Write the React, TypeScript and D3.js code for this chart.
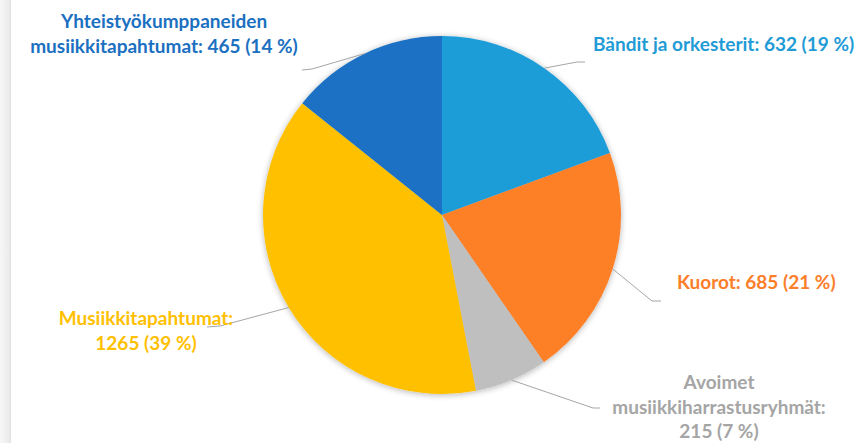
import React from "react";
import * as d3 from "d3";

const categories = [
  "Bändit ja orkesterit",
  "Kuorot",
  "Avoimet musiikkiharrastusryhmät",
  "Musiikkitapahtumat",
  "Yhteistyökumppaneiden musiikkitapahtumat",
];
const values = [632, 685, 215, 1265, 465];
const percentLabels = ["19 %", "21 %", "7 %", "39 %", "14 %"];
const sliceColors = ["#1f9dd8", "#fd7f28", "#bfbfbf", "#ffc000", "#1a71c4"];
const textColors = ["#1f9bd6", "#fb7e2a", "#a5a5a5", "#ffc000", "#1b70c1"];
// label line breaks (text split)
const labelLines = [
  ["Bändit ja orkesterit: 632 (19 %)"],
  ["Kuorot: 685 (21 %)"],
  ["Avoimet", "musiikkiharrastusryhmät:", "215 (7 %)"],
  ["Musiikkitapahtumat:", "1265 (39 %)"],
  ["Yhteistyökumppaneiden", "musiikkitapahtumat: 465 (14 %)"],
];

const W = 865;
const H = 443;
const CX = 442;
const CY = 215;
const R = 179;

// layout: label anchor + leader elbow
const layout = [
  { x: 593, y: 51, anchor: "start", elbow: [577, 62], end: [585, 62] },
  { x: 677, y: 289, anchor: "start", elbow: [652, 301], end: [661, 301] },
  { x: 719, y: 389, anchor: "middle", elbow: [593, 408], end: [600, 408] },
  { x: 146, y: 325, anchor: "middle", elbow: [220, 326], end: [207, 327] },
  { x: 164, y: 28, anchor: "middle", elbow: [312, 69], end: [302, 70] },
];

export default function App() {
  const pie = d3
    .pie<number>()
    .sort(null)
    .value((d) => d);
  const arcs = pie(values);
  const arcGen = d3.arc<d3.PieArcDatum<number>>().innerRadius(0).outerRadius(R);
  const lineH = 24.5;
  const fontSize = 19;

  return (
    <svg
      width={W}
      height={H}
      style={{ position: "absolute", left: 0, top: 0, background: "#fff" }}
    >
      <defs>
        <linearGradient id="edge" x1="0" x2="1" y1="0" y2="0">
          <stop offset="0" stopColor="#f7f7f7" />
          <stop offset="0.8" stopColor="#ececec" />
          <stop offset="1" stopColor="#dedede" />
        </linearGradient>
        <filter id="shadow" x="-20%" y="-20%" width="140%" height="140%">
          <feGaussianBlur in="SourceAlpha" stdDeviation="3" />
          <feOffset dx="0" dy="1" result="b" />
          <feComponentTransfer>
            <feFuncA type="linear" slope="0.3" />
          </feComponentTransfer>
          <feMerge>
            <feMergeNode />
            <feMergeNode in="SourceGraphic" />
          </feMerge>
        </filter>
      </defs>
      <rect x={0} y={0} width={W} height={H} fill="#fff" />
      <rect x={0} y={0} width={11} height={H} fill="url(#edge)" />
      <g transform={`translate(${CX},${CY})`} filter="url(#shadow)">
        {arcs.map((a, i) => (
          <path key={i} d={arcGen(a) || ""} fill={sliceColors[i]} />
        ))}
      </g>
      {arcs.map((a, i) => {
        const mid = (a.startAngle + a.endAngle) / 2;
        const sx0 = CX + R * Math.sin(mid);
        const sy0 = CY - R * Math.cos(mid);
        const L = layout[i];
        const pts: [number, number][] = [
          [sx0, sy0],
          [L.elbow[0], L.elbow[1]],
          [L.end[0], L.end[1]],
        ];
        return (
          <path
            key={"l" + i}
            d={d3.line()(pts) || ""}
            fill="none"
            stroke="#a6a6a6"
            strokeWidth={1}
          />
        );
      })}
      {labelLines.map((lines, i) => {
        const L = layout[i];
        return (
          <g key={"t" + i} transform={`translate(${L.x},${L.y})`}>
            {lines.map((ln, j) => (
              <text
                key={j}
                x={0}
                y={j * lineH}
                textAnchor={L.anchor as any}
                fill={textColors[i]}
                fontFamily="Lato, 'Noto Sans', sans-serif"
                fontWeight={700}
                fontSize={fontSize}
              >
                {ln}
              </text>
            ))}
          </g>
        );
      })}
    </svg>
  );
}
